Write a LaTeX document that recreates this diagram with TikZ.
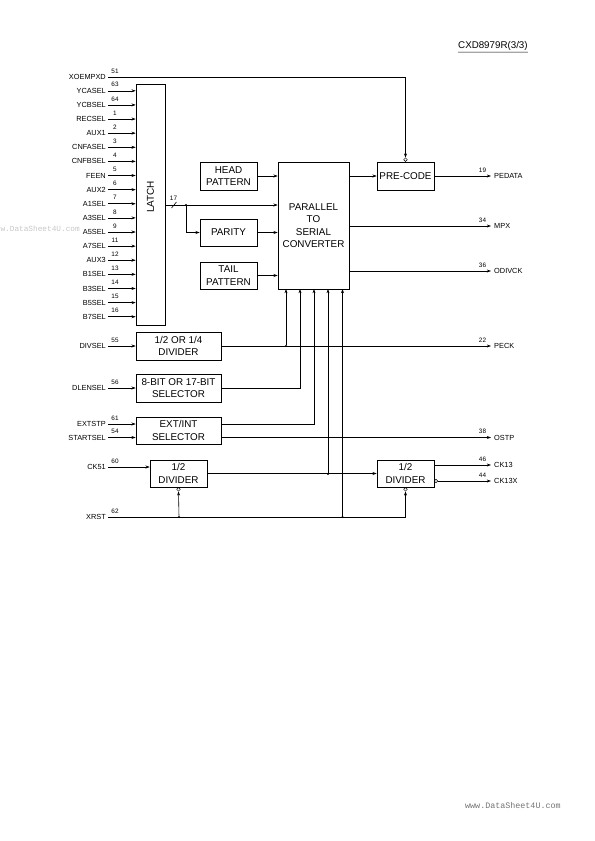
\documentclass[tikz,border=0pt]{standalone}
\usepackage{fontspec}
\setmainfont{Liberation Sans}
\newfontfamily\wmfont{Liberation Mono}
\usetikzlibrary{arrows.meta}
\begin{document}
\begin{tikzpicture}[x=1bp,y=-1bp,
  box/.style={draw,line width=0.6pt,inner sep=0pt,align=center,font=\fontsize{9.9}{12.4}\selectfont},
  lbl/.style={anchor=east,inner sep=0pt,font=\fontsize{7.4}{8}\selectfont},
  olbl/.style={anchor=west,inner sep=0pt,font=\fontsize{7.4}{8}\selectfont},
  pin/.style={inner sep=0pt,font=\fontsize{6.4}{7}\selectfont},
  wire/.style={line width=0.6pt},
  arr/.style={wire,-{Stealth[length=4.2pt,width=3pt]}},
  bubble/.style={circle,draw,line width=0.5pt,inner sep=0pt,minimum size=3.6pt},
  jdot/.style={circle,fill,inner sep=0pt,minimum size=2.2pt}]
\useasboundingbox (0,0) rectangle (595,841);

% header and watermarks
\node[anchor=south west,inner sep=0pt,font=\fontsize{9.8}{11}\selectfont] (hdr) at (458,50.5) {CXD8979R(3/3)};
\draw[line width=0.6pt] (hdr.south west) ++(0,1.6) -- ([yshift=-1.6bp]hdr.south east);
\node[anchor=east,inner sep=0pt,text=black!22,font=\wmfont\fontsize{7.8}{8}\selectfont] (wm1) at (80,229) {w.DataSheet4U.com};
\node[anchor=west,inner sep=0pt,text=black!55,font=\wmfont\fontsize{8.4}{9}\selectfont] (wm2) at (465,805) {www.DataSheet4U.com};

% boxes
\node[box,minimum width=29bp,minimum height=241bp] (latch) at (150.5,204.5) {};
\node[rotate=90,inner sep=0pt,font=\fontsize{10}{11}\selectfont] (latchtxt) at (150.5,197) {LATCH};
\node[box,minimum width=57bp,minimum height=28bp] (head) at (228.5,176) {HEAD\\PATTERN};
\node[box,minimum width=57bp,minimum height=27bp] (parity) at (228.5,232.5) {PARITY};
\node[box,minimum width=57bp,minimum height=27bp] (tail) at (228.5,275.5) {TAIL\\PATTERN};
\node[box,minimum width=71bp,minimum height=127bp] (conv) at (313.5,225.5) {PARALLEL\\TO\\SERIAL\\CONVERTER};
\node[box,minimum width=57bp,minimum height=28bp] (pre) at (405.5,176) {PRE-CODE};
\node[box,minimum width=85bp,minimum height=28bp] (div14) at (178.5,346) {1/2 OR 1/4\\DIVIDER};
\node[box,minimum width=85bp,minimum height=28bp] (sel) at (178.5,388) {8-BIT OR 17-BIT\\SELECTOR};
\node[box,minimum width=85bp,minimum height=27bp] (ext) at (178.5,430.5) {EXT/INT\\SELECTOR};
\node[box,minimum width=57bp,minimum height=27bp] (divL) at (178.5,473.5) {1/2\\DIVIDER};
\node[box,minimum width=57bp,minimum height=27bp] (divR) at (405.5,473.5) {1/2\\DIVIDER};

% bubbles
\node[bubble,anchor=south] (bpre) at (pre.north) {};
\node[bubble,anchor=north] (bL) at (divL.south) {};
\node[bubble,anchor=north] (bR) at (divR.south) {};
\node[bubble,anchor=west] (bX) at (434,481) {};

% latch inputs
\foreach \name/\num [count=\i from 0] in {YCASEL/63,YCBSEL/64,RECSEL/1,AUX1/2,CNFASEL/3,CNFBSEL/4,FEEN/5,AUX2/6,A1SEL/7,A3SEL/8,A5SEL/9,A7SEL/11,AUX3/12,B1SEL/13,B3SEL/14,B5SEL/15,B7SEL/16}{
  \pgfmathsetmacro{\yy}{90.8+14.12*\i}
  \coordinate (in\i) at (108,\yy);
  \node[lbl] (l\i) at (106,\yy) {\name};
  \node[pin] (p\i) at (115,\yy-6) {\num};
  \draw[arr] (in\i) -- (in\i -| latch.west);
}

% XOEMPXD
\coordinate (xo) at (108,77);
\node[lbl] (lxo) at (106,77) {XOEMPXD};
\node[pin] (pxo) at (115,71) {51};
\draw[arr] (xo) -| (bpre.north);

% latch output, parity branch
\coordinate (lo) at (165,205);
\node[jdot] (jp) at (186,205) {};
\draw[arr] (lo) -- (lo -| conv.west);
\draw[wire] (171.5,208) -- (176.5,202);
\node[pin] (p17) at (173.5,198.5) {17};
\draw[arr] (jp) |- (parity.west);
\draw[arr] (head.east) -- (head.east -| conv.west);
\draw[arr] (parity.east) -- (parity.east -| conv.west);
\draw[arr] (tail.east) -- (tail.east -| conv.west);

% converter outputs
\draw[arr] (conv.east |- pre.west) -- (pre.west);
\coordinate (oPE) at (491,176);
\draw[arr] (pre.east) -- (oPE);
\node[olbl] (lPE) at (494,176) {PEDATA};
\node[pin] (pPE) at (482.5,170) {19};
\coordinate (oMPX) at (491,226);
\draw[arr] (conv.east |- oMPX) -- (oMPX);
\node[olbl] (lMPX) at (494,226) {MPX};
\node[pin] (pMPX) at (482.5,220) {34};
\coordinate (oOD) at (491,271);
\draw[arr] (conv.east |- oOD) -- (oOD);
\node[olbl] (lOD) at (494,271) {ODIVCK};
\node[pin] (pOD) at (482.5,265) {36};

% bottom of converter
\coordinate (cb1) at (286,289);
\coordinate (cb2) at (300,289);
\coordinate (cb3) at (314,289);
\coordinate (cb4) at (328,289);
\coordinate (cb5) at (342.5,289);

% DIVSEL
\coordinate (iDIV) at (108,346);
\node[lbl] (lDIV) at (106,346) {DIVSEL};
\node[pin] (pDIV) at (115,340) {55};
\draw[arr] (iDIV) -- (div14.west);
\coordinate (oPECK) at (491,346);
\draw[arr] (div14.east) -- (oPECK);
\node[olbl] (lPECK) at (494,346) {PECK};
\node[pin] (pPECK) at (482.5,340) {22};
\node[jdot] (j1) at (286,346) {};
\draw[arr] (j1) -- (cb1);

% DLENSEL
\coordinate (iDL) at (108,388);
\node[lbl] (lDL) at (106,388) {DLENSEL};
\node[pin] (pDL) at (115,382) {56};
\draw[arr] (iDL) -- (sel.west);
\draw[arr] (sel.east) -| (cb2);

% EXT/INT
\coordinate (iEX) at (108,424);
\coordinate (iST) at (108,437.5);
\node[lbl] (lEX) at (106,424) {EXTSTP};
\node[pin] (pEX) at (115,418) {61};
\node[lbl] (lST) at (106,437.5) {STARTSEL};
\node[pin] (pST) at (115,431.5) {54};
\draw[arr] (iEX) -- (iEX -| ext.west);
\draw[arr] (iST) -- (iST -| ext.west);
\draw[arr] (ext.east |- iEX) -| (cb3);
\coordinate (oOS) at (491,437.5);
\draw[arr] (ext.east |- oOS) -- (oOS);
\node[olbl] (lOS) at (494,437.5) {OSTP};
\node[pin] (pOS) at (482.5,431.5) {38};

% CK51 and dividers
\coordinate (iCK) at (108,467);
\node[lbl] (lCK) at (106,467) {CK51};
\node[pin] (pCK) at (115,461) {60};
\draw[arr] (iCK) -- (iCK -| divL.west);
\node[jdot] (j4) at (328,474) {};
\draw[arr] (divL.east |- divR.west) -- (divR.west);
\draw[arr] (j4) -- (cb4);

\coordinate (oCK13) at (491,465);
\draw[arr] (divR.east |- oCK13) -- (oCK13);
\node[olbl] (lCK13) at (494,465) {CK13};
\node[pin] (pCK13) at (482.5,459) {46};
\coordinate (oCK13X) at (491,481);
\draw[arr] (bX.east) -- (oCK13X);
\node[olbl] (lCK13X) at (494,481) {CK13X};
\node[pin] (pCK13X) at (482.5,475) {44};

% XRST
\coordinate (iRS) at (108,517);
\node[lbl] (lRS) at (106,517) {XRST};
\node[pin] (pRS) at (115,511) {62};
\node[jdot] (j5) at (179,517) {};
\node[jdot] (j6) at (342.5,517) {};
\draw[arr] (iRS) -| (bR.south);
\draw[arr] (j5) -- (bL.south);
\draw[arr] (j6) -- (cb5);
\end{tikzpicture}
\end{document}
